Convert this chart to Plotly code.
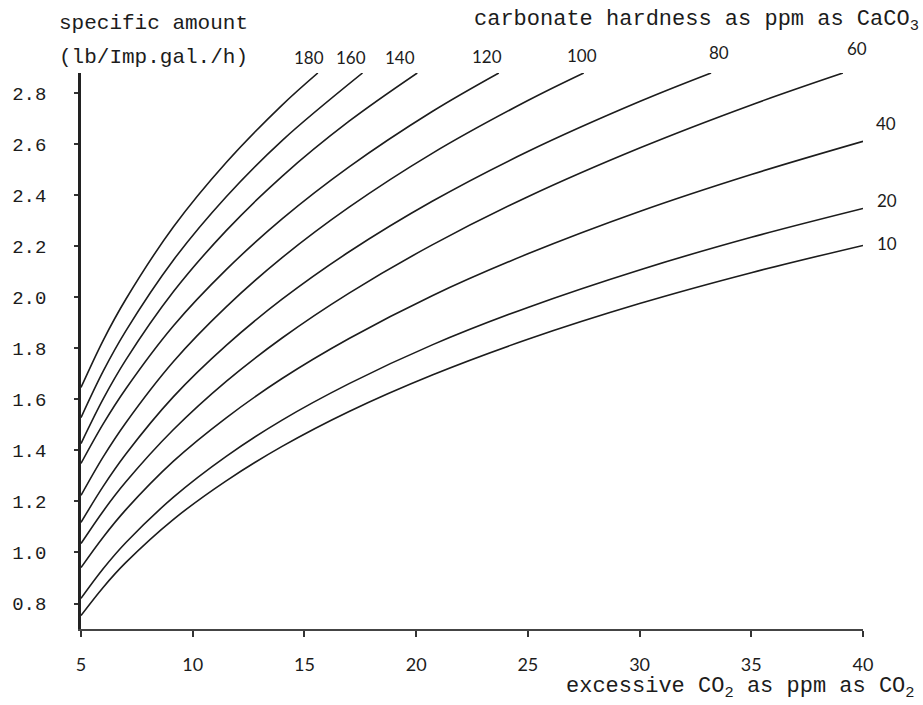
import plotly.graph_objects as go

# carbonate hardness (ppm as CaCO3) for each curve
hardness = [10, 20, 40, 60, 80, 100, 120, 140, 160, 180]

# excessive CO2 (ppm as CO2) and specific amount (lb/Imp.gal./h), read per curve
x_10 = [5, 6, 7, 9.14, 11.5, 14, 17, 20.72, 25, 30, 35, 40]
y_10 = [0.753, 0.864, 0.960, 1.130, 1.281, 1.416, 1.553, 1.696, 1.836, 1.976, 2.097, 2.204]
x_20 = [5, 6, 7, 9.14, 11.5, 14, 17, 20.72, 25, 30, 35, 40]
y_20 = [0.82, 0.937, 1.038, 1.217, 1.377, 1.519, 1.662, 1.814, 1.961, 2.108, 2.236, 2.349]
x_40 = [5, 6, 7, 9.14, 11.5, 14, 17, 20.72, 25, 30, 35, 40]
y_40 = [0.941, 1.061, 1.167, 1.358, 1.528, 1.682, 1.839, 2.007, 2.171, 2.337, 2.482, 2.612]
x_60 = [5, 6, 7, 9.14, 11.5, 14, 17, 20.72, 25, 30, 35, 39.1]
y_60 = [1.035, 1.163, 1.276, 1.482, 1.671, 1.841, 2.017, 2.206, 2.395, 2.586, 2.755, 2.88]
x_80 = [5, 6, 7, 9.14, 11.5, 14, 17, 20.72, 25, 30, 33.2]
y_80 = [1.118, 1.260, 1.385, 1.611, 1.812, 1.993, 2.179, 2.377, 2.572, 2.768, 2.88]
x_100 = [5, 6, 7, 9.14, 11.5, 14, 17, 20.72, 25, 27.5]
y_100 = [1.224, 1.376, 1.508, 1.749, 1.963, 2.156, 2.354, 2.565, 2.772, 2.88]
x_120 = [5, 6, 7, 9.14, 11.5, 14, 17, 20.72, 23.7]
y_120 = [1.349, 1.505, 1.641, 1.889, 2.109, 2.308, 2.512, 2.729, 2.88]
x_140 = [5, 6, 7, 9.14, 11.5, 14, 17, 20.05]
y_140 = [1.427, 1.603, 1.754, 2.023, 2.262, 2.475, 2.691, 2.88]
x_160 = [5, 6, 7, 9.14, 11.5, 14, 17.6]
y_160 = [1.529, 1.712, 1.868, 2.147, 2.395, 2.615, 2.88]
x_180 = [5, 6, 7, 9.14, 11.5, 14, 15.6]
y_180 = [1.647, 1.833, 1.992, 2.277, 2.529, 2.754, 2.88]

xs = [x_10, x_20, x_40, x_60, x_80, x_100, x_120, x_140, x_160, x_180]
ys = [y_10, y_20, y_40, y_60, y_80, y_100, y_120, y_140, y_160, y_180]

x_ticks = [5, 10, 15, 20, 25, 30, 35, 40]
y_ticks = [0.8, 1.0, 1.2, 1.4, 1.6, 1.8, 2.0, 2.2, 2.4, 2.6, 2.8]
y_ticktext = ["%.1f" % v for v in y_ticks]

MONO = "Liberation Mono, Courier New, monospace"
SANS = "Lato, Open Sans, sans-serif"
INK = "#1c1c1c"

fig = go.Figure()
for h, xv, yv in zip(hardness, xs, ys):
    fig.add_trace(go.Scatter(x=xv, y=yv, mode="lines", name=str(h),
                             line=dict(color=INK, width=1.6, shape="spline", smoothing=1.0),
                             hoverinfo="skip"))

# curve labels: (xshift, yshift) offsets relative to curve end
label_shift = {180: (-9, 16), 160: (-12, 16), 140: (-17, 16), 120: (-12, 17),
               100: (-2, 18), 80: (8, 21), 60: (14, 25), 40: (23, 18), 20: (24, 8), 10: (24, 2)}
for h, xv, yv in zip(hardness, xs, ys):
    dx, dy = label_shift[h]
    fig.add_annotation(x=xv[-1], y=yv[-1], text=str(h), showarrow=False,
                       xshift=dx, yshift=dy, font=dict(family=SANS, size=17, color=INK))

fig.add_annotation(xref="paper", yref="paper", x=-24/786, y=1 + 50/556, xanchor="left", yanchor="middle",
                   text="specific amount", showarrow=False, font=dict(family=MONO, size=21, color=INK))
fig.add_annotation(xref="paper", yref="paper", x=-24/786, y=1 + 15/556, xanchor="left", yanchor="middle",
                   text="(lb/Imp.gal./h)", showarrow=False, font=dict(family=MONO, size=21, color=INK))
fig.add_annotation(xref="paper", yref="paper", x=1 + 58/786, y=1 + 52/556, xanchor="right", yanchor="middle",
                   text="carbonate hardness as ppm as CaCO<sub>3</sub>", showarrow=False,
                   font=dict(family=MONO, size=22, color=INK))
fig.add_annotation(xref="paper", yref="paper", x=1 + 54/786, y=-59/556, xanchor="right", yanchor="middle",
                   text="excessive CO<sub>2</sub> as ppm as CO<sub>2</sub>", showarrow=False,
                   font=dict(family=MONO, size=22, color=INK))

fig.update_layout(
    width=923, height=705,
    margin=dict(l=77, r=60, t=73, b=76),
    paper_bgcolor="white", plot_bgcolor="white",
    showlegend=False,
    xaxis=dict(range=[5, 40], tickvals=x_ticks, ticks="outside", ticklen=6, tickwidth=1.5,
               tickcolor="#333", showline=True, linewidth=2, linecolor="#444",
               showgrid=False, zeroline=False, ticklabelstandoff=12,
               tickfont=dict(family=SANS, size=18, color=INK)),
    yaxis=dict(range=[0.7, 2.88], tickvals=y_ticks, ticktext=y_ticktext, ticks="outside",
               ticklen=4, tickwidth=1.5, tickcolor="#333", showline=True, linewidth=2.5,
               linecolor="#222", showgrid=False, zeroline=False, ticklabelstandoff=24,
               tickfont=dict(family=MONO, size=19, color=INK)),
)

fig.write_html("out.html")
